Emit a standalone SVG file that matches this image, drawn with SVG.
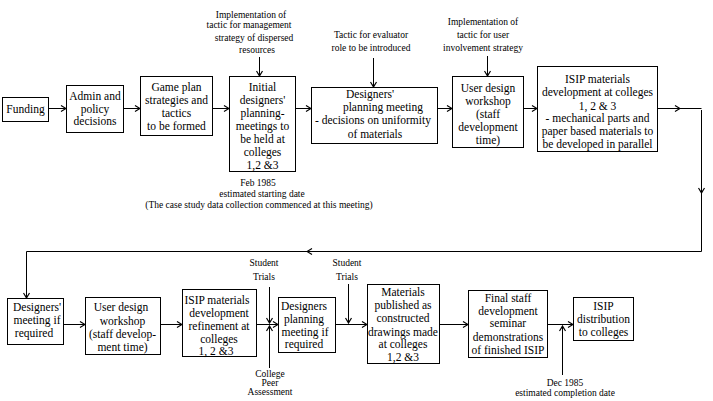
<svg xmlns="http://www.w3.org/2000/svg" width="713" height="401" viewBox="0 0 713 401">
<defs>
<marker id="ah" markerWidth="8" markerHeight="8" refX="7" refY="4" orient="auto" markerUnits="userSpaceOnUse">
<path d="M2,1 L7,4 L2,7 M4,4 L7,4" fill="none" stroke="#000" stroke-width="1.2"/>
</marker>
</defs>
<style>
.bx{fill:#fff;stroke:#000;stroke-width:1}
.t{font-family:'Liberation Serif','Times New Roman',Times,'DejaVu Serif',serif;font-size:11.5px;fill:#000;text-anchor:middle}
.s{font-family:'Liberation Serif','Times New Roman',Times,'DejaVu Serif',serif;font-size:9.5px;fill:#000;text-anchor:middle}
.c{fill:none;stroke:#000;stroke-width:1}
.a{marker-end:url(#ah)}
</style>
<rect width="713" height="401" fill="#fff"/>

<g id="connectors">
<path class="c a" d="M49,108.5 H66"/>
<path class="c a" d="M124,108.5 H140"/>
<path class="c a" d="M213,108.5 H229"/>
<path class="c a" d="M296,108.5 H311"/>
<path class="c a" d="M438,108.5 H452"/>
<path class="c a" d="M524,108.5 H537"/>
<path class="c a" d="M658,108.5 H680"/>
<path class="c" d="M680,108.5 H701.5"/>
<path class="c a" d="M701.5,110 V193"/>
<path class="c" d="M701.5,193 V251.5"/>
<path class="c a" d="M701.5,251.5 H307"/>
<path class="c" d="M307,251.5 H26.5"/>
<path class="c a" d="M26.5,251.5 V298"/>
<path class="c a" d="M259.5,57 V76"/>
<path class="c a" d="M373.5,58 V87"/>
<path class="c a" d="M487.5,56 V76"/>
<path class="c a" d="M64,324.5 H85"/>
<path class="c a" d="M161,324.5 H182"/>
<path class="c a" d="M257,324.5 H278"/>
<path class="c a" d="M269.5,287 V323"/>
<path class="c a" d="M269.5,368 V326"/>
<path class="c a" d="M336,324.5 H367"/>
<path class="c a" d="M348.5,284 V323"/>
<path class="c a" d="M440,324.5 H468"/>
<path class="c a" d="M548,324.5 H573"/>
<path class="c a" d="M562.5,375 V326"/>
</g>

<g id="n-funding">
<rect class="bx" x="2.5" y="97.5" width="46" height="24"/>
<text class="t" x="25.5" y="112.5">Funding</text>
</g>
<g id="n-admin">
<rect class="bx" x="66.5" y="85.5" width="57" height="47"/>
<text class="t" x="95" y="100">Admin and</text>
<text class="t" x="95" y="112.5">policy</text>
<text class="t" x="95" y="125">decisions</text>
</g>
<g id="n-gameplan">
<rect class="bx" x="140.5" y="76.5" width="72" height="59"/>
<text class="t" x="176.5" y="91">Game plan</text>
<text class="t" x="176.5" y="104">strategies and</text>
<text class="t" x="176.5" y="117">tactics</text>
<text class="t" x="176.5" y="130">to be formed</text>
</g>
<g id="n-initial">
<rect class="bx" x="229.5" y="76.5" width="66" height="95"/>
<text class="t" x="262.5" y="91">Initial</text>
<text class="t" x="262.5" y="104">designers'</text>
<text class="t" x="262.5" y="117">planning-</text>
<text class="t" x="262.5" y="130">meetings to</text>
<text class="t" x="262.5" y="143">be held at</text>
<text class="t" x="262.5" y="156">colleges</text>
<text class="t" x="262.5" y="169">1,2 &amp;3</text>
</g>
<g id="n-ann-initial">
<text class="s" x="251" y="18">Implementation of</text>
<text class="s" x="249" y="28">tactic for management</text>
<text class="s" x="254" y="41">strategy of dispersed</text>
<text class="s" x="257" y="53">resources</text>
</g>
<g id="n-ann-feb">
<text class="s" x="258" y="186">Feb 1985</text>
<text class="s" x="262" y="197">estimated starting date</text>
<text class="s" x="259" y="208">(The case study data collection commenced at this meeting)</text>
</g>
<g id="n-designers">
<rect class="bx" x="311.5" y="87.5" width="126" height="56"/>
<text class="t" x="370" y="98">Designers'</text>
<text class="t" x="383" y="111">planning meeting</text>
<text class="t" x="373" y="124">- decisions on uniformity</text>
<text class="t" x="375" y="138">of materials</text>
</g>
<g id="n-ann-evaluator">
<text class="s" x="371" y="38">Tactic for evaluator</text>
<text class="s" x="371" y="51">role to be introduced</text>
</g>
<g id="n-userdesign1">
<rect class="bx" x="452.5" y="76.5" width="71" height="71"/>
<text class="t" x="488" y="92">User design</text>
<text class="t" x="488" y="105">workshop</text>
<text class="t" x="488" y="118">(staff</text>
<text class="t" x="488" y="131">development</text>
<text class="t" x="488" y="144">time)</text>
</g>
<g id="n-ann-user">
<text class="s" x="483" y="25">Implementation of</text>
<text class="s" x="483" y="38">tactic for user</text>
<text class="s" x="483" y="51">involvement strategy</text>
</g>
<g id="n-isip1">
<rect class="bx" x="537.5" y="66.5" width="120" height="85"/>
<text class="t" x="597.5" y="83">ISIP materials</text>
<text class="t" x="597.5" y="96">development at colleges</text>
<text class="t" x="597.5" y="110">1, 2 &amp; 3</text>
<text class="t" x="597.5" y="122">- mechanical parts and</text>
<text class="t" x="597.5" y="135">paper based materials to</text>
<text class="t" x="597.5" y="148">be developed in parallel</text>
</g>

<g id="n-designers2">
<rect class="bx" x="7.5" y="298.5" width="56" height="46"/>
<text class="t" x="37" y="311">Designers'</text>
<text class="t" x="37" y="324">meeting if</text>
<text class="t" x="34" y="337">required</text>
</g>
<g id="n-userdesign2">
<rect class="bx" x="85.5" y="297.5" width="75" height="57"/>
<text class="t" x="121" y="311">User design</text>
<text class="t" x="122.5" y="325">workshop</text>
<text class="t" x="122.5" y="338">(staff develop-</text>
<text class="t" x="122.5" y="351">ment time)</text>
</g>
<g id="n-isip2">
<rect class="bx" x="182.5" y="289.5" width="74" height="67"/>
<text class="t" x="217" y="304">ISIP materials</text>
<text class="t" x="219" y="317">development</text>
<text class="t" x="219" y="330">refinement at</text>
<text class="t" x="219" y="343">colleges</text>
<text class="t" x="216" y="355">1, 2 &amp;3</text>
</g>
<g id="n-ann-trials1">
<text class="s" x="264" y="266">Student</text>
<text class="s" x="264" y="280">Trials</text>
</g>
<g id="n-ann-peer">
<text class="s" x="270" y="377">College</text>
<text class="s" x="270" y="386">Peer</text>
<text class="s" x="270" y="395">Assessment</text>
</g>
<g id="n-designers3">
<rect class="bx" x="278.5" y="297.5" width="57" height="55"/>
<text class="t" x="304" y="310">Designers</text>
<text class="t" x="304" y="323">planning</text>
<text class="t" x="305" y="336">meeting if</text>
<text class="t" x="304" y="348">required</text>
</g>
<g id="n-ann-trials2">
<text class="s" x="347" y="266">Student</text>
<text class="s" x="347" y="280">Trials</text>
</g>
<g id="n-published">
<rect class="bx" x="367.5" y="284.5" width="72" height="79"/>
<text class="t" x="403" y="296">Materials</text>
<text class="t" x="403" y="309">published as</text>
<text class="t" x="403" y="322">constructed</text>
<text class="t" x="403" y="336">drawings made</text>
<text class="t" x="403" y="348">at colleges</text>
<text class="t" x="403" y="361">1,2 &amp;3</text>
</g>
<g id="n-final">
<rect class="bx" x="468.5" y="290.5" width="79" height="67"/>
<text class="t" x="508" y="302">Final staff</text>
<text class="t" x="508" y="315">development</text>
<text class="t" x="508" y="327">seminar</text>
<text class="t" x="508" y="341">demonstrations</text>
<text class="t" x="508" y="354">of finished ISIP</text>
</g>
<g id="n-ann-dec">
<text class="s" x="565" y="386">Dec 1985</text>
<text class="s" x="565" y="396">estimated completion date</text>
</g>
<g id="n-distribution">
<rect class="bx" x="573.5" y="297.5" width="60" height="43"/>
<text class="t" x="603.5" y="310">ISIP</text>
<text class="t" x="603.5" y="323">distribution</text>
<text class="t" x="603.5" y="336">to colleges</text>
</g>
</svg>
